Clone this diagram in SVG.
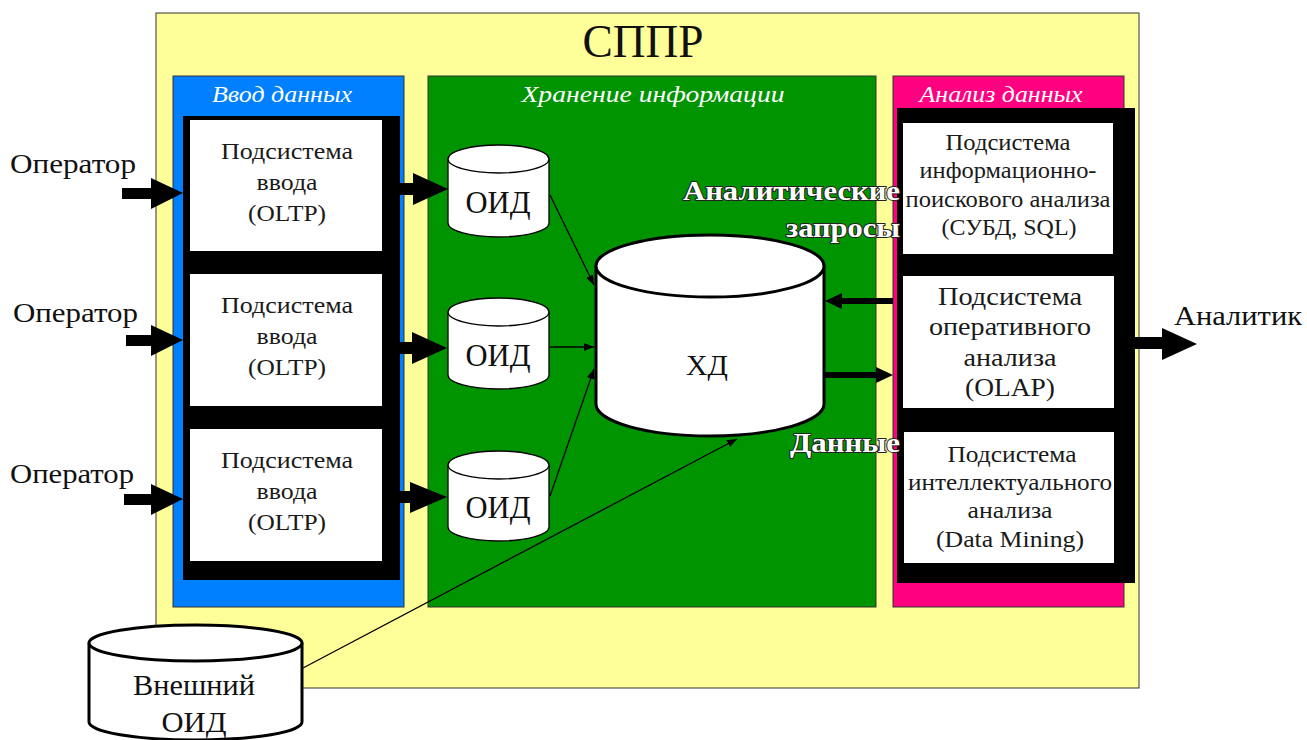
<svg xmlns="http://www.w3.org/2000/svg" width="1307" height="740" viewBox="0 0 1307 740">
<defs>
<style>
.t{font-family:"Liberation Serif","Times New Roman",serif;fill:#111;text-anchor:middle}
.ttl{font-family:"Liberation Serif","Times New Roman",serif;font-style:italic;fill:#fff;text-anchor:middle;font-size:24px}
.sub{font-size:24px;fill:#1a1a1a}
.olap{font-size:26px}
.big{font-size:32px}
.op{font-size:28px;text-anchor:start}
.emb{font-family:"Liberation Serif","Times New Roman",serif;font-weight:bold;font-size:28px;fill:#fff;stroke:#222;stroke-width:2;paint-order:stroke;stroke-linejoin:round;text-anchor:end}
.panel{stroke:#333;stroke-width:1}
.wbox{fill:#fff}
.cyl{fill:#fff;stroke:#000}
.thick{fill:#000}
.thin{stroke:#000;stroke-width:1.3;fill:none;marker-end:url(#ah)}
</style>
<marker id="ah" viewBox="0 0 10 8" refX="10" refY="4" markerWidth="10" markerHeight="8" markerUnits="userSpaceOnUse" orient="auto">
<path d="M0,0 L10,4 L0,8 z" fill="#000"/>
</marker>
</defs>
<rect width="1307" height="740" fill="#fff"/>

<g id="sppr">
<rect x="156" y="13" width="983" height="675" fill="#FFFF99" class="panel"/>
<text class="t" x="643" y="57" font-size="47" textLength="121" lengthAdjust="spacingAndGlyphs">СППР</text>
</g>

<g id="input-panel">
<rect x="173" y="76" width="231" height="531" fill="#0080FF" class="panel"/>
<text class="ttl" x="282" y="102" textLength="140" lengthAdjust="spacingAndGlyphs">Ввод данных</text>
<rect x="183" y="116" width="217" height="464" fill="#000"/>
</g>
<g id="oltp1">
<rect class="wbox" x="190" y="120" width="192" height="131"/>
<text class="t sub" x="287" y="159" textLength="132" lengthAdjust="spacingAndGlyphs">Подсистема</text>
<text class="t sub" x="287" y="190" textLength="61" lengthAdjust="spacingAndGlyphs">ввода</text>
<text class="t sub" x="287" y="221" textLength="78" lengthAdjust="spacingAndGlyphs">(OLTP)</text>
</g>
<g id="oltp2">
<rect class="wbox" x="190" y="274" width="192" height="132"/>
<text class="t sub" x="287" y="313" textLength="132" lengthAdjust="spacingAndGlyphs">Подсистема</text>
<text class="t sub" x="287" y="344" textLength="61" lengthAdjust="spacingAndGlyphs">ввода</text>
<text class="t sub" x="287" y="375" textLength="78" lengthAdjust="spacingAndGlyphs">(OLTP)</text>
</g>
<g id="oltp3">
<rect class="wbox" x="190" y="429" width="192" height="132"/>
<text class="t sub" x="287" y="468" textLength="132" lengthAdjust="spacingAndGlyphs">Подсистема</text>
<text class="t sub" x="287" y="499" textLength="61" lengthAdjust="spacingAndGlyphs">ввода</text>
<text class="t sub" x="287" y="530" textLength="78" lengthAdjust="spacingAndGlyphs">(OLTP)</text>
</g>

<g id="storage-panel">
<rect x="428" y="76" width="448" height="531" fill="#009400" class="panel"/>
<text class="ttl" x="653" y="102" textLength="263" lengthAdjust="spacingAndGlyphs">Хранение информации</text>
</g>
<g id="oid1">
<path class="cyl" stroke-width="1.3" d="M448,159 v64 a50.5,14 0 0 0 101,0 v-64"/>
<ellipse class="cyl" stroke-width="1.3" cx="498.5" cy="159" rx="50.5" ry="14"/>
<text class="t big" x="498" y="213" textLength="65" lengthAdjust="spacingAndGlyphs">ОИД</text>
</g>
<g id="oid2">
<path class="cyl" stroke-width="1.3" d="M448,312 v63 a50.5,14 0 0 0 101,0 v-63"/>
<ellipse class="cyl" stroke-width="1.3" cx="498.5" cy="312" rx="50.5" ry="14"/>
<text class="t big" x="498" y="366" textLength="65" lengthAdjust="spacingAndGlyphs">ОИД</text>
</g>
<g id="oid3">
<path class="cyl" stroke-width="1.3" d="M448,465 v62 a50.5,14 0 0 0 101,0 v-62"/>
<ellipse class="cyl" stroke-width="1.3" cx="498.5" cy="465" rx="50.5" ry="14"/>
<text class="t big" x="498" y="518" textLength="65" lengthAdjust="spacingAndGlyphs">ОИД</text>
</g>
<g id="hd">
<path class="cyl" stroke-width="3" d="M596,266 v138 a114,32 0 0 0 228,0 v-138"/>
<ellipse class="cyl" stroke-width="3" cx="710" cy="266" rx="114" ry="31"/>
<text class="t" font-size="30" x="707" y="375" textLength="42" lengthAdjust="spacingAndGlyphs">ХД</text>
</g>

<g id="analysis-panel">
<rect x="893" y="76" width="231" height="531" fill="#FF0080" class="panel"/>
<text class="ttl" x="1001" y="102" textLength="163" lengthAdjust="spacingAndGlyphs">Анализ данных</text>
<rect x="897" y="108" width="238" height="475" fill="#000"/>
</g>
<g id="ir">
<rect class="wbox" x="903" y="123" width="210" height="131"/>
<text class="t sub" x="1008" y="150" textLength="125" lengthAdjust="spacingAndGlyphs">Подсистема</text>
<text class="t sub" x="1008" y="178" textLength="177" lengthAdjust="spacingAndGlyphs">информационно-</text>
<text class="t sub" x="1008" y="207" textLength="205" lengthAdjust="spacingAndGlyphs">поискового анализа</text>
<text class="t sub" x="1009" y="235" textLength="135" lengthAdjust="spacingAndGlyphs">(СУБД, SQL)</text>
</g>
<g id="olap">
<rect class="wbox" x="903" y="276" width="211" height="132"/>
<text class="t sub olap" x="1010" y="305" textLength="144" lengthAdjust="spacingAndGlyphs">Подсистема</text>
<text class="t sub olap" x="1010" y="335" textLength="162" lengthAdjust="spacingAndGlyphs">оперативного</text>
<text class="t sub olap" x="1010" y="366" textLength="93" lengthAdjust="spacingAndGlyphs">анализа</text>
<text class="t sub olap" x="1010" y="396" textLength="90" lengthAdjust="spacingAndGlyphs">(OLAP)</text>
</g>
<g id="dm">
<rect class="wbox" x="904" y="432" width="210" height="131"/>
<text class="t sub" x="1012" y="462" textLength="129" lengthAdjust="spacingAndGlyphs">Подсистема</text>
<text class="t sub" x="1010" y="490" textLength="204" lengthAdjust="spacingAndGlyphs">интеллектуального</text>
<text class="t sub" x="1010" y="518" textLength="85" lengthAdjust="spacingAndGlyphs">анализа</text>
<text class="t sub" x="1010" y="547" textLength="148" lengthAdjust="spacingAndGlyphs">(Data Mining)</text>
</g>

<g id="ext-oid">
<path class="cyl" stroke-width="3" d="M89,643 v79 a106.5,18 0 0 0 213,0 v-79"/>
<ellipse class="cyl" stroke-width="3" cx="195.5" cy="643" rx="106.5" ry="18"/>
<text class="t" font-size="29" x="194" y="695" textLength="122" lengthAdjust="spacingAndGlyphs">Внешний</text>
<text class="t" font-size="30" x="194" y="732" textLength="65" lengthAdjust="spacingAndGlyphs">ОИД</text>
</g>

<g id="actors">
<text class="t op" x="10" y="173" textLength="126" lengthAdjust="spacingAndGlyphs">Оператор</text>
<text class="t op" x="13" y="322" textLength="125" lengthAdjust="spacingAndGlyphs">Оператор</text>
<text class="t op" x="10" y="483" textLength="124" lengthAdjust="spacingAndGlyphs">Оператор</text>
<text class="t op" x="1174" y="325" textLength="128" lengthAdjust="spacingAndGlyphs">Аналитик</text>
</g>

<g id="connectors">
<polygon class="thick" points="122,188 151,188 151,178 183,193 151,209 151,199 122,199"/>
<polygon class="thick" points="126,335 151,335 151,325 183,340 151,356 151,346 126,346"/>
<polygon class="thick" points="124,494 151,494 151,484 183,499 151,515 151,505 124,505"/>
<polygon class="thick" points="400,183 413,183 413,173 448,189 413,205 413,195 400,195"/>
<polygon class="thick" points="400,342 412,342 412,332 447,348 412,364 412,354 400,354"/>
<polygon class="thick" points="400,491 410,491 410,482 447,497 410,513 410,503 400,503"/>
<polygon class="thick" points="1135,337 1162,337 1162,328 1197,344 1162,360 1162,349 1135,349"/>
<polygon class="thick" points="893,298 842,298 842,293 825,301 842,309 842,304 893,304"/>
<polygon class="thick" points="825,372 876,372 876,367 893,375 876,383 876,378 825,378"/>
<line class="thin" x1="550" y1="195" x2="594" y2="285"/>
<line class="thin" x1="550" y1="347" x2="594" y2="347"/>
<line class="thin" x1="550" y1="496" x2="594" y2="369"/>
<line class="thin" x1="303" y1="668" x2="737" y2="439"/>
</g>

<g id="labels">
<text class="emb" x="900" y="200" textLength="217" lengthAdjust="spacingAndGlyphs">Аналитические</text>
<text class="emb" x="900" y="237" textLength="114" lengthAdjust="spacingAndGlyphs">запросы</text>
<text class="emb" x="900" y="452" textLength="110" lengthAdjust="spacingAndGlyphs">Данные</text>
</g>
</svg>
